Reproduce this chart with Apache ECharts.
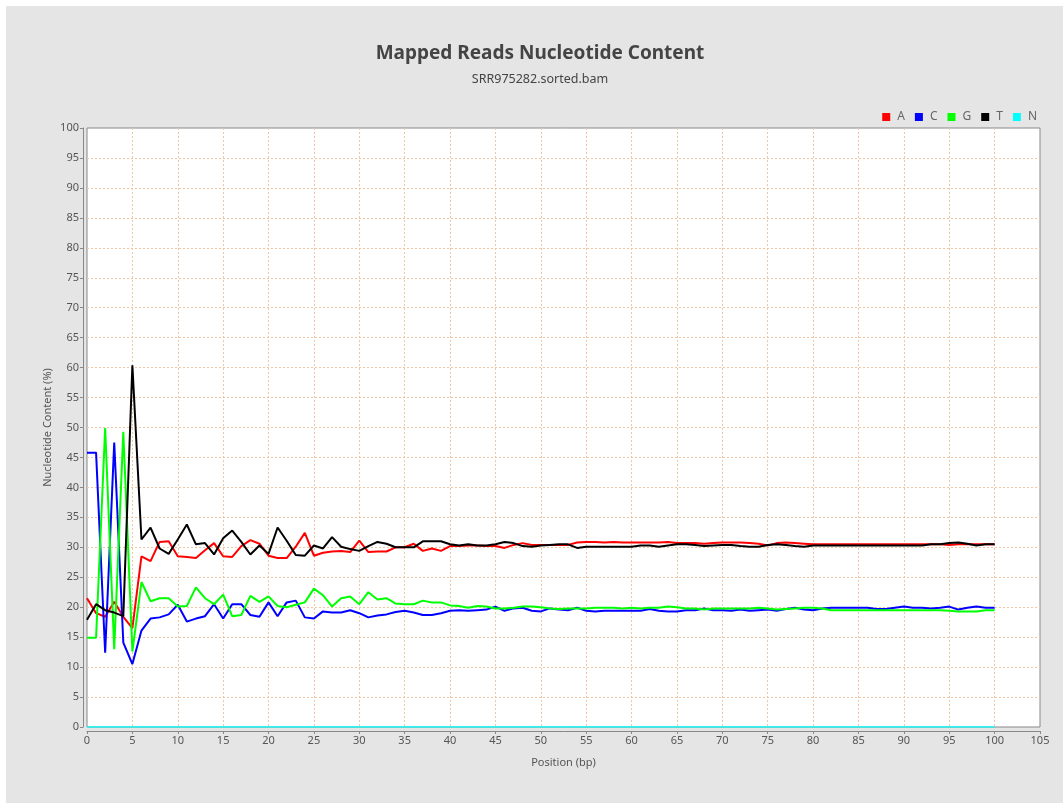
<!DOCTYPE html>
<html>
<head>
<meta charset="utf-8">
<title>Mapped Reads Nucleotide Content</title>
<script src="https://cdn.jsdelivr.net/npm/echarts@6.0.0/dist/echarts.min.js"></script>
<style>
  html, body { margin: 0; padding: 0; background: #ffffff; width: 1063px; height: 803px; overflow: hidden; }
  #chart { position: absolute; left: 6px; top: 6px; width: 1057px; height: 797px; }
</style>
</head>
<body>
<div id="chart"></div>
<script>
// Read position (bp)
const positions = [
  0, 1, 2, 3, 4, 5, 6, 7, 8, 9, 10, 11, 12, 13, 14, 15, 16, 17, 18, 19, 20,
  21, 22, 23, 24, 25, 26, 27, 28, 29, 30, 31, 32, 33, 34, 35, 36, 37, 38, 39, 40,
  41, 42, 43, 44, 45, 46, 47, 48, 49, 50, 51, 52, 53, 54, 55, 56, 57, 58, 59, 60,
  61, 62, 63, 64, 65, 66, 67, 68, 69, 70, 71, 72, 73, 74, 75, 76, 77, 78, 79, 80,
  81, 82, 83, 84, 85, 86, 87, 88, 89, 90, 91, 92, 93, 94, 95, 96, 97, 98, 99, 100
];

// Nucleotide content (%) per position
const contentA = [
  21.5, 19.0, 18.4, 20.9, 18.4, 16.5, 28.5, 27.7, 30.9, 31.0, 28.5,
  28.4, 28.2, 29.5, 30.7, 28.5, 28.4, 30.2, 31.2, 30.6, 28.6,
  28.2, 28.2, 30.1, 32.4, 28.6, 29.1, 29.3, 29.4, 29.2, 31.1,
  29.2, 29.3, 29.3, 30.0, 30.0, 30.6, 29.4, 29.8, 29.4, 30.2,
  30.2, 30.3, 30.3, 30.2, 30.2, 29.9, 30.4, 30.7, 30.4, 30.4,
  30.4, 30.4, 30.4, 30.8, 30.9, 30.9, 30.8, 30.9, 30.8, 30.8,
  30.8, 30.8, 30.8, 30.9, 30.7, 30.7, 30.7, 30.6, 30.7, 30.8,
  30.8, 30.8, 30.7, 30.6, 30.3, 30.7, 30.8, 30.7, 30.6, 30.5,
  30.5, 30.5, 30.5, 30.5, 30.5, 30.5, 30.5, 30.5, 30.5, 30.5,
  30.5, 30.5, 30.5, 30.5, 30.4, 30.5, 30.5, 30.5, 30.5, 30.5
];
const contentC = [
  45.8, 45.8, 12.4, 47.5, 14.1, 10.5, 16.1, 18.1, 18.3, 18.8, 20.4,
  17.6, 18.1, 18.5, 20.5, 18.1, 20.5, 20.5, 18.7, 18.4, 20.8,
  18.5, 20.8, 21.1, 18.3, 18.1, 19.3, 19.1, 19.1, 19.5, 19.0,
  18.3, 18.6, 18.8, 19.2, 19.4, 19.1, 18.7, 18.7, 19.0, 19.4,
  19.5, 19.4, 19.5, 19.6, 20.1, 19.4, 19.8, 19.9, 19.4, 19.3,
  19.8, 19.6, 19.5, 19.9, 19.4, 19.3, 19.4, 19.4, 19.4, 19.4,
  19.4, 19.7, 19.4, 19.3, 19.3, 19.5, 19.5, 19.8, 19.5, 19.5,
  19.4, 19.6, 19.4, 19.5, 19.6, 19.4, 19.7, 19.9, 19.6, 19.5,
  19.8, 19.9, 19.9, 19.9, 19.9, 19.9, 19.7, 19.7, 19.9, 20.1,
  19.9, 19.9, 19.8, 19.9, 20.1, 19.6, 19.9, 20.1, 19.9, 19.9
];
const contentG = [
  14.9, 14.9, 49.9, 13.0, 49.3, 12.6, 24.2, 21.0, 21.5, 21.5, 20.1,
  20.2, 23.3, 21.5, 20.5, 22.1, 18.5, 18.7, 21.9, 20.9, 21.8,
  20.2, 20.0, 20.4, 20.8, 23.1, 22.0, 20.1, 21.5, 21.8, 20.5,
  22.5, 21.3, 21.5, 20.6, 20.5, 20.5, 21.1, 20.8, 20.8, 20.3,
  20.2, 19.9, 20.2, 20.1, 19.8, 19.8, 19.9, 20.1, 20.1, 20.0,
  19.8, 19.7, 19.8, 19.8, 19.8, 19.9, 19.9, 19.9, 19.8, 19.9,
  19.8, 19.9, 19.9, 20.1, 20.0, 19.8, 19.8, 19.6, 19.8, 19.8,
  19.8, 19.8, 19.8, 19.9, 19.8, 19.6, 19.7, 19.8, 19.9, 19.9,
  19.8, 19.5, 19.5, 19.5, 19.5, 19.5, 19.5, 19.5, 19.5, 19.5,
  19.5, 19.5, 19.5, 19.5, 19.4, 19.3, 19.3, 19.3, 19.5, 19.5
];
const contentT = [
  17.9, 20.5, 19.5, 19.1, 18.5, 60.4, 31.3, 33.3, 29.8, 28.9, 31.3,
  33.8, 30.5, 30.7, 28.8, 31.5, 32.8, 30.9, 28.8, 30.3, 28.9,
  33.3, 31.1, 28.7, 28.6, 30.3, 29.8, 31.7, 30.1, 29.7, 29.4,
  30.2, 30.9, 30.6, 30.0, 30.0, 30.0, 31.0, 31.0, 31.0, 30.5,
  30.3, 30.5, 30.3, 30.3, 30.5, 30.9, 30.7, 30.2, 30.1, 30.3,
  30.4, 30.5, 30.5, 29.9, 30.1, 30.1, 30.1, 30.1, 30.1, 30.1,
  30.3, 30.3, 30.1, 30.3, 30.5, 30.5, 30.4, 30.2, 30.3, 30.4,
  30.4, 30.2, 30.1, 30.1, 30.4, 30.5, 30.4, 30.2, 30.1, 30.3,
  30.3, 30.3, 30.3, 30.3, 30.3, 30.3, 30.3, 30.3, 30.3, 30.3,
  30.3, 30.3, 30.5, 30.5, 30.7, 30.8, 30.6, 30.3, 30.5, 30.5
];
const contentN = [
  0, 0, 0, 0, 0, 0, 0, 0, 0, 0, 0,
  0, 0, 0, 0, 0, 0, 0, 0, 0, 0,
  0, 0, 0, 0, 0, 0, 0, 0, 0, 0,
  0, 0, 0, 0, 0, 0, 0, 0, 0, 0,
  0, 0, 0, 0, 0, 0, 0, 0, 0, 0,
  0, 0, 0, 0, 0, 0, 0, 0, 0, 0,
  0, 0, 0, 0, 0, 0, 0, 0, 0, 0,
  0, 0, 0, 0, 0, 0, 0, 0, 0, 0,
  0, 0, 0, 0, 0, 0, 0, 0, 0, 0,
  0, 0, 0, 0, 0, 0, 0, 0, 0, 0
];

const seriesNames = ['A', 'C', 'G', 'T', 'N'];
const seriesValues = [contentA, contentC, contentG, contentT, contentN];
const seriesColors = ['#ff0000', '#0000ff', '#00ff00', '#000000', '#00ffff'];

const FONT = 'Noto Sans';
const axisGrey = '#888888';
const labelGrey = '#555555';
const gridPeach = '#f2c6a2';

function pairs(values) {
  return positions.map((p, i) => [p, values[i]]);
}

const chart = echarts.init(document.getElementById('chart'), null, { renderer: 'canvas' });

chart.setOption({
  animation: false,
  backgroundColor: '#e5e5e5',
  textStyle: { fontFamily: FONT },
  title: [
    {
      text: 'Mapped Reads Nucleotide Content',
      left: 529, top: 33, textAlign: 'center',
      textStyle: { fontFamily: FONT, fontSize: 19, fontWeight: 'bold', color: '#444444' }
    },
    {
      text: 'SRR975282.sorted.bam',
      left: 529, top: 62, textAlign: 'center',
      textStyle: { fontFamily: FONT, fontSize: 12.5, fontWeight: 'normal', color: '#444444' }
    }
  ],
  legend: {
    data: seriesNames,
    right: 21, top: 100,
    icon: 'rect', itemWidth: 8, itemHeight: 8, itemGap: 10,
    textStyle: { fontFamily: FONT, fontSize: 12, color: '#666666', padding: [0, 0, 0, 2] }
  },
  grid: {
    show: true,
    left: 81, top: 122, right: 23, bottom: 76,
    backgroundColor: '#ffffff',
    borderColor: axisGrey, borderWidth: 1,
    containLabel: false
  },
  xAxis: {
    type: 'value', min: 0, max: 105, interval: 5,
    offset: 4,
    name: 'Position (bp)', nameLocation: 'middle', nameGap: 26, nameMoveOverlap: false,
    nameTextStyle: { fontFamily: FONT, fontSize: 11, color: labelGrey },
    axisLine: { show: true, onZero: false, lineStyle: { color: axisGrey, width: 1 } },
    axisTick: { show: true, length: 3, lineStyle: { color: axisGrey } },
    axisLabel: { fontFamily: FONT, fontSize: 11, color: labelGrey, margin: 4 },
    splitLine: {
      show: true, showMinLine: false, showMaxLine: false,
      lineStyle: { color: gridPeach, type: [2, 2], width: 1 }
    }
  },
  yAxis: {
    type: 'value', min: 0, max: 100, interval: 5,
    offset: 4,
    name: 'Nucleotide Content (%)', nameLocation: 'middle', nameGap: 30, nameRotate: 90,
    nameMoveOverlap: false,
    nameTextStyle: { fontFamily: FONT, fontSize: 11, color: labelGrey },
    axisLine: { show: true, onZero: false, lineStyle: { color: axisGrey, width: 1 } },
    axisTick: { show: true, length: 3, lineStyle: { color: axisGrey } },
    axisLabel: { fontFamily: FONT, fontSize: 11, color: labelGrey, margin: 4 },
    splitLine: {
      show: true, showMinLine: false, showMaxLine: false,
      lineStyle: { color: gridPeach, type: [2, 2], width: 1 }
    }
  },
  series: seriesNames.map((name, i) => ({
    name: name,
    type: 'line',
    data: pairs(seriesValues[i]),
    showSymbol: false,
    symbol: 'none',
    color: seriesColors[i],
    lineStyle: { color: seriesColors[i], width: name === 'N' ? 1.5 : 2 },
    itemStyle: { color: seriesColors[i] },
    emphasis: { disabled: true }
  }))
});
</script>
</body>
</html>
